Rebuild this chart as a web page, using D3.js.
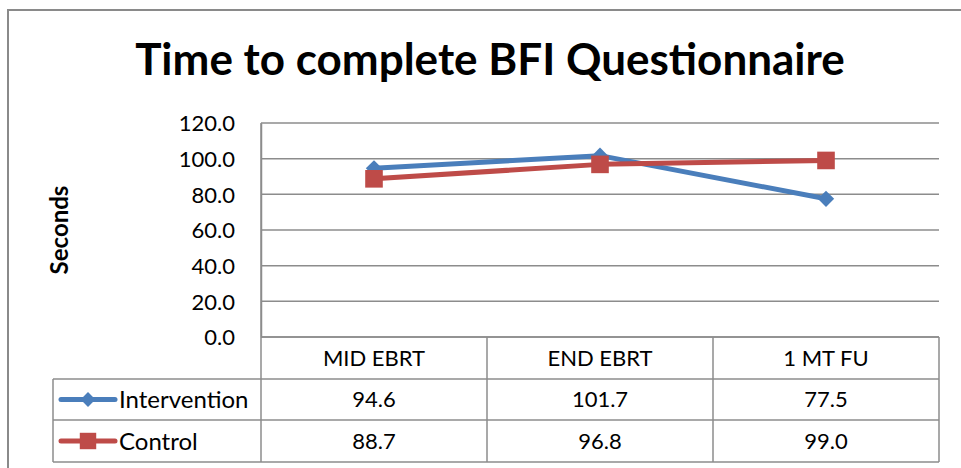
<!DOCTYPE html>
<html>
<head>
<meta charset="utf-8">
<script src="https://cdn.jsdelivr.net/npm/d3@7"></script>
<style>
  body { margin: 0; background: #fff; }
  text { font-family: Lato, "Open Sans", sans-serif; fill: #000; }
</style>
</head>
<body>
<div id="chart"></div>
<script>
//Datos
const categories = ['MID EBRT', 'END EBRT', '1 MT FU'];
const intervention = [94.6, 101.7, 77.5];
const control = [88.7, 96.8, 99.0];
const yTicks = [0, 20, 40, 60, 80, 100, 120];

const COLOR_BLUE = '#4A7EBB',
COLOR_RED = '#BE4B48',
COLOR_GRID = '#8C8C8C';

const series = [
    { name: 'Intervention', values: intervention, color: COLOR_BLUE, marker: 'diamond' },
    { name: 'Control', values: control, color: COLOR_RED, marker: 'square' }
];

let width = 961, height = 468;
let margin = { top: 123, left: 261, right: 22 };
let plotBottom = 337;
let rowH = [42, 41, 42];

let svg = d3.select('#chart').append('svg')
    .attr('width', width)
    .attr('height', height);

//Marco exterior
svg.append('rect')
    .attr('x', 8).attr('y', 10)
    .attr('width', 970).attr('height', 500)
    .attr('fill', 'none')
    .attr('stroke', '#8a8a8a')
    .attr('stroke-width', 2);

//Título
svg.append('text')
    .attr('x', 490).attr('y', 75)
    .attr('text-anchor', 'middle')
    .attr('font-size', '44px')
    .attr('font-weight', 'bold')
    .text('Time to complete BFI Questionnaire');

//Escalas
let x = d3.scaleBand()
    .domain(categories)
    .range([margin.left, width - margin.right]);

let y = d3.scaleLinear()
    .domain([0, 120])
    .range([plotBottom, margin.top]);

//Rejilla
svg.append('g')
    .selectAll('line')
    .data(yTicks)
    .enter()
    .append('line')
        .attr('x1', margin.left)
        .attr('x2', width - margin.right)
        .attr('y1', d => y(d))
        .attr('y2', d => y(d))
        .attr('stroke', COLOR_GRID)
        .attr('stroke-width', 1.5);

//Eje Y
let yAxis = d3.axisLeft(y).tickValues(yTicks).tickFormat(d3.format('.1f')).tickSize(0).tickPadding(26);
let gy = svg.append('g')
    .attr('transform', 'translate(' + margin.left + ',0)')
    .call(yAxis);
gy.select('.domain')
    .attr('stroke', COLOR_GRID)
    .attr('stroke-width', 1.5);
gy.selectAll('text')
    .attr('font-size', '22px')
    .attr('font-family', 'Lato, sans-serif')
    .attr('fill', '#000')
    .attr('dy', '0.36em');

svg.append('text')
    .attr('transform', 'translate(68,230) rotate(-90)')
    .attr('text-anchor', 'middle')
    .attr('font-size', '24px')
    .attr('font-weight', 'bold')
    .text('Seconds');

//Tabla de datos
let tableRows = [plotBottom, plotBottom + rowH[0], plotBottom + rowH[0] + rowH[1], plotBottom + rowH[0] + rowH[1] + rowH[2]];
let legendLeft = 53;
let tbl = svg.append('g');

tbl.selectAll('line.h')
    .data(tableRows)
    .enter()
    .append('line')
        .attr('x1', (d, i) => i === 0 ? margin.left : legendLeft)
        .attr('x2', width - margin.right)
        .attr('y1', d => d)
        .attr('y2', d => d)
        .attr('stroke', COLOR_GRID)
        .attr('stroke-width', 1.5);

let vx = categories.map(c => x(c)).concat([width - margin.right]);
tbl.selectAll('line.v')
    .data(vx)
    .enter()
    .append('line')
        .attr('x1', d => d)
        .attr('x2', d => d)
        .attr('y1', (d, i) => i === 0 ? margin.top : plotBottom)
        .attr('y2', tableRows[3])
        .attr('stroke', COLOR_GRID)
        .attr('stroke-width', 1.5);

tbl.append('line')
    .attr('x1', legendLeft).attr('x2', legendLeft)
    .attr('y1', tableRows[1]).attr('y2', tableRows[3])
    .attr('stroke', COLOR_GRID)
    .attr('stroke-width', 1.5);

tbl.selectAll('text.cat')
    .data(categories)
    .enter()
    .append('text')
        .attr('x', d => x(d) + x.bandwidth() / 2)
        .attr('y', (tableRows[0] + tableRows[1]) / 2)
        .attr('dy', '0.36em')
        .attr('text-anchor', 'middle')
        .attr('font-size', '22px')
        .text(d => d);

series.forEach(function(s, si) {
    let cy = (tableRows[si + 1] + tableRows[si + 2]) / 2;
    tbl.selectAll('text.val' + si)
        .data(s.values)
        .enter()
        .append('text')
            .attr('x', (d, i) => x(categories[i]) + x.bandwidth() / 2)
            .attr('y', cy)
            .attr('dy', '0.36em')
            .attr('text-anchor', 'middle')
            .attr('font-size', '22px')
            .text(d => d3.format('.1f')(d));

    //Leyenda
    tbl.append('line')
        .attr('x1', 61).attr('x2', 115)
        .attr('y1', cy).attr('y2', cy)
        .attr('stroke', s.color)
        .attr('stroke-width', 5)
        .attr('stroke-linecap', 'round');
    tbl.append('path')
        .attr('transform', 'translate(88,' + cy + ')')
        .attr('d', s.marker === 'diamond' ? d3.symbol(d3.symbolDiamond2, 140)() : d3.symbol(d3.symbolSquare, 270)())
        .attr('fill', s.color);
    tbl.append('text')
        .attr('x', 119)
        .attr('y', cy)
        .attr('dy', '0.36em')
        .attr('font-size', '24px')
        .text(s.name);
});

//Líneas
let line = d3.line()
    .x((d, i) => x(categories[i]) + x.bandwidth() / 2)
    .y(d => y(d));

series.forEach(function(s) {
    let g = svg.append('g');
    g.append('path')
        .datum(s.values)
        .attr('d', line)
        .attr('fill', 'none')
        .attr('stroke', s.color)
        .attr('stroke-width', 5)
        .attr('stroke-linejoin', 'round')
        .attr('stroke-linecap', 'round');
    g.selectAll('path.mk')
        .data(s.values)
        .enter()
        .append('path')
            .attr('transform', (d, i) => 'translate(' + (x(categories[i]) + x.bandwidth() / 2) + ',' + y(d) + ')')
            .attr('d', s.marker === 'diamond' ? d3.symbol(d3.symbolDiamond2, 170)() : d3.symbol(d3.symbolSquare, 310)())
            .attr('fill', s.color);
});
</script>
</body>
</html>
